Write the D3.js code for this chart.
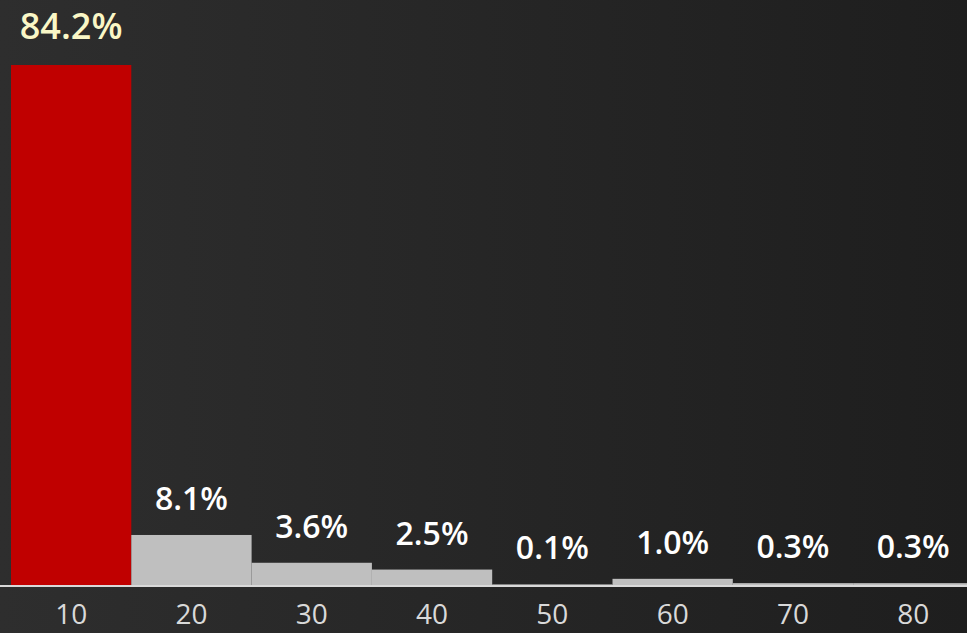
<!DOCTYPE html>
<html>
<head>
<meta charset="utf-8">
<script src="https://cdn.jsdelivr.net/npm/d3@7"></script>
<style>
  html, body { margin: 0; padding: 0; background: #252525; overflow: hidden; }
  svg { display: block; }
</style>
</head>
<body>
<div id="chart"></div>
<script>
// chart values
var categories = ['10', '20', '30', '40', '50', '60', '70', '80'];
var shares = [84.2, 8.1, 3.6, 2.5, 0.1, 1.0, 0.3, 0.3];
var labels = ['84.2%', '8.1%', '3.6%', '2.5%', '0.1%', '1.0%', '0.3%', '0.3%'];

var width = 967, height = 633;
var margin = {top: 65, left: 11, bottom: 48};
var baseY = height - margin.bottom; // 585

var svg = d3.select('#chart').append('svg')
    .attr('width', width)
    .attr('height', height);

// background gradient, lighter on the left
var defs = svg.append('defs');
var grad = defs.append('linearGradient')
    .attr('id', 'bg')
    .attr('x1', '0%').attr('x2', '100%')
    .attr('y1', '0%').attr('y2', '0%');
grad.append('stop').attr('offset', '0%').attr('stop-color', '#2e2e2e');
grad.append('stop').attr('offset', '100%').attr('stop-color', '#1e1e1e');
svg.append('rect')
    .attr('width', width).attr('height', height)
    .attr('fill', 'url(#bg)');

var x = d3.scaleBand()
    .domain(categories)
    .range([margin.left, margin.left + 8 * 120.3])
    .padding(0);

var y = d3.scaleLinear()
    .domain([0, d3.max(shares)])
    .range([baseY, margin.top]);

var data = categories.map(function(c, i) {
    return {cat: c, value: shares[i], label: labels[i], idx: i};
});

svg.selectAll('rect.bar')
    .data(data)
    .enter().append('rect')
    .attr('class', 'bar')
    .attr('x', function(d) { return x(d.cat); })
    .attr('width', x.bandwidth())
    .attr('y', function(d) { return y(d.value); })
    .attr('height', function(d) { return baseY - y(d.value); })
    .attr('fill', function(d) { return d.idx === 0 ? '#c00000' : '#bfbfbf'; });

// value labels
svg.selectAll('text.val')
    .data(data)
    .enter().append('text')
    .attr('class', 'val')
    .attr('x', function(d) { return x(d.cat) + x.bandwidth() / 2; })
    .attr('y', function(d) { return y(d.value) - (d.idx === 0 ? 26 : 25); })
    .attr('text-anchor', 'middle')
    .style('font-family', '"Open Sans", sans-serif')
    .style('font-size', function(d) { return d.idx === 0 ? '36px' : '32px'; })
    .style('font-weight', 600)
    .attr('fill', function(d) { return d.idx === 0 ? '#faf7c6' : '#ffffff'; })
    .text(function(d) { return d.label; });

// x axis
var xAxis = d3.axisBottom(x).tickSize(0).tickPadding(18);
var gx = svg.append('g')
    .attr('transform', 'translate(0,' + (baseY + 1) + ')')
    .call(xAxis);
gx.select('.domain')
    .attr('d', 'M0,0H' + width)
    .attr('stroke', '#d9d9d9')
    .attr('stroke-width', 2);
gx.selectAll('text')
    .style('font-family', '"Open Sans", sans-serif')
    .style('font-size', '28px')
    .attr('fill', '#d9d9d9')
    .attr('dy', '0.71em');
</script>
</body>
</html>
